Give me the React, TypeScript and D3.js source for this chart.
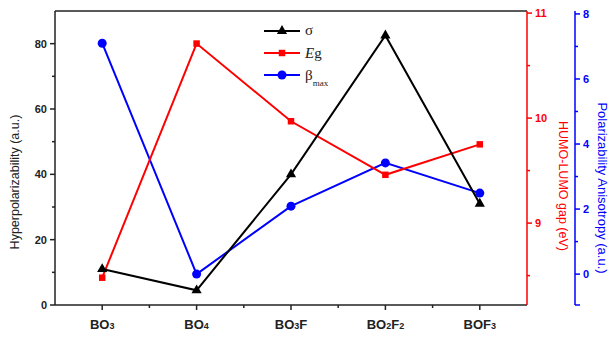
import React from "react";
import * as d3 from "d3";

// categories (main text + subscript pieces)
const categories = [
  [["BO", ""], ["3", "sub"]],
  [["BO", ""], ["4", "sub"]],
  [["BO", ""], ["3", "sub"], ["F", ""]],
  [["BO", ""], ["2", "sub"], ["F", ""], ["2", "sub"]],
  [["BOF", ""], ["3", "sub"]],
];

const sigma = [11, 4.5, 40, 82.5, 31];
const eg = [8.48, 10.71, 9.97, 9.46, 9.75];
const betaMax = [7.1, 0, 2.09, 3.42, 2.49];

const leftTicks = [0, 20, 40, 60, 80];
const leftMinor = [10, 30, 50, 70];
const redTicks = [9, 10, 11];
const redMinor = [8.5, 9.5, 10.5];
const blueTicks = [0, 2, 4, 6, 8];
const blueMinor = [1, 3, 5, 7];

const W = 612, H = 337;
const m = { left: 55, top: 11, right: 527, bottom: 305 };
const blueX = 575;

const RED = "#ff0000";
const BLUE = "#0000ff";
const tickFont = "'Liberation Sans', Arial, sans-serif";

export default function App() {
  const x = d3.scaleLinear().domain([-0.5, 4.5]).range([m.left, m.right]);
  const yL = d3.scaleLinear().domain([0, 90]).range([m.bottom, m.top]);
  const yR = d3.scaleLinear().domain([8.22, 11.02]).range([m.bottom, m.top]);
  const yB = d3.scaleLinear().domain([-0.95, 8.09]).range([m.bottom, m.top]);

  const line = (ys: number[], s: d3.ScaleLinear<number, number>) =>
    d3.line<number>().x((_, i) => x(i)).y(d => s(d))(ys) || "";

  const tri = d3.symbol().type(d3.symbolTriangle).size(45)();
  const sq = d3.symbol().type(d3.symbolSquare).size(42)();

  const xMinor = [0.5, 1.5, 2.5, 3.5];

  return (
    <svg width={W} height={H} style={{ position: "absolute", left: 0, top: 0, background: "#fff" }}
      fontFamily={tickFont}>
      {/* frame */}
      <line x1={m.left} x2={m.right} y1={m.top} y2={m.top} stroke="#222" strokeWidth={1.5} />
      <line x1={m.left} x2={m.right} y1={m.bottom} y2={m.bottom} stroke="#222" strokeWidth={1.5} />
      <line x1={m.left} x2={m.left} y1={m.top} y2={m.bottom} stroke="#222" strokeWidth={1.5} />

      {/* left axis */}
      {leftTicks.map(t => (
        <g key={"l" + t}>
          <line x1={m.left - 5} x2={m.left} y1={yL(t)} y2={yL(t)} stroke="#222" strokeWidth={1.5} />
          <text x={m.left - 8} y={yL(t) + 4} textAnchor="end" fontSize={11} fontWeight="bold" fill="#222">{t}</text>
        </g>
      ))}
      {leftMinor.map(t => (
        <line key={"lm" + t} x1={m.left - 3} x2={m.left} y1={yL(t)} y2={yL(t)} stroke="#222" strokeWidth={1.5} />
      ))}
      <text transform={`translate(19,182) rotate(-90)`} textAnchor="middle"
        fontSize={12.5} fill="#222">Hyperpolarizability (a.u.)</text>

      {/* x axis */}
      {categories.map((c, i) => (
        <g key={"x" + i}>
          <line x1={x(i)} x2={x(i)} y1={m.bottom} y2={m.bottom + 5} stroke="#222" strokeWidth={1.5} />
          <text x={x(i)} y={m.bottom + 24} textAnchor="middle" fontSize={13} fontWeight="bold" fill="#222">
            {c.map((p, k) => (
              <tspan key={k} fontSize={p[1] === "sub" ? 9 : 13}>{p[0]}</tspan>
            ))}
          </text>
        </g>
      ))}
      {xMinor.map(t => (
        <line key={"xm" + t} x1={x(t)} x2={x(t)} y1={m.bottom} y2={m.bottom + 3} stroke="#222" strokeWidth={1.5} />
      ))}

      {/* red right axis */}
      <line x1={m.right} x2={m.right} y1={m.top} y2={m.bottom} stroke={RED} strokeWidth={1.5} />
      {redTicks.map(t => (
        <g key={"r" + t}>
          <line x1={m.right} x2={m.right + 5} y1={yR(t)} y2={yR(t)} stroke={RED} strokeWidth={1.5} />
          <text x={m.right + 8} y={yR(t) + 4} fontSize={11} fontWeight="bold" fill={RED}>{t}</text>
        </g>
      ))}
      {redMinor.map(t => (
        <line key={"rm" + t} x1={m.right} x2={m.right + 3} y1={yR(t)} y2={yR(t)} stroke={RED} strokeWidth={1.5} />
      ))}
      <text transform={`translate(559,186) rotate(90)`} textAnchor="middle"
        fontSize={12.5} fill={RED}>HUMO-LUMO gap (eV)</text>

      {/* blue right axis */}
      <line x1={blueX} x2={blueX} y1={m.top} y2={m.bottom} stroke={BLUE} strokeWidth={1.5} />
      {blueTicks.map(t => (
        <g key={"b" + t}>
          <line x1={blueX} x2={blueX + 5} y1={yB(t)} y2={yB(t)} stroke={BLUE} strokeWidth={1.5} />
          <text x={blueX + 8} y={yB(t) + 4} fontSize={11} fontWeight="bold" fill={BLUE}>{t}</text>
        </g>
      ))}
      {blueMinor.map(t => (
        <line key={"bm" + t} x1={blueX} x2={blueX + 3} y1={yB(t)} y2={yB(t)} stroke={BLUE} strokeWidth={1.5} />
      ))}
      <line x1={blueX} x2={blueX + 5} y1={m.bottom} y2={m.bottom} stroke={BLUE} strokeWidth={1.5} />
      <text transform={`translate(598,188) rotate(90)`} textAnchor="middle"
        fontSize={13} fill={BLUE}>Polarizability Anisotropy (a.u.)</text>

      {/* series */}
      <path d={line(betaMax, yB)} fill="none" stroke={BLUE} strokeWidth={2} />
      <path d={line(eg, yR)} fill="none" stroke={RED} strokeWidth={2} />
      <path d={line(sigma, yL)} fill="none" stroke="#000" strokeWidth={2} />
      {betaMax.map((d, i) => <circle key={"bc" + i} cx={x(i)} cy={yB(d)} r={4.5} fill={BLUE} />)}
      {eg.map((d, i) => <path key={"es" + i} d={sq} transform={`translate(${x(i)},${yR(d)})`} fill={RED} />)}
      {sigma.map((d, i) => <path key={"st" + i} d={tri} transform={`translate(${x(i)},${yL(d)})`} fill="#000" />)}

      {/* legend */}
      <g fontFamily="'Liberation Serif', 'Times New Roman', serif">
        <line x1={264} x2={300} y1={31} y2={31} stroke="#000" strokeWidth={2} />
        <path d={tri} transform="translate(282,31)" fill="#000" />
        <text x={305} y={35} fontSize={15} fill="#222">σ</text>
        <line x1={264} x2={300} y1={53} y2={53} stroke={RED} strokeWidth={2} />
        <path d={sq} transform="translate(282,53)" fill={RED} />
        <text x={305} y={58} fontSize={15} fill="#222"><tspan fontStyle="italic">E</tspan>g</text>
        <line x1={264} x2={300} y1={75} y2={75} stroke={BLUE} strokeWidth={2} />
        <circle cx={282} cy={75} r={4.5} fill={BLUE} />
        <text x={305} y={80} fontSize={15} fill="#222">β<tspan fontSize={9} dy={6}>max</tspan></text>
      </g>
    </svg>
  );
}
